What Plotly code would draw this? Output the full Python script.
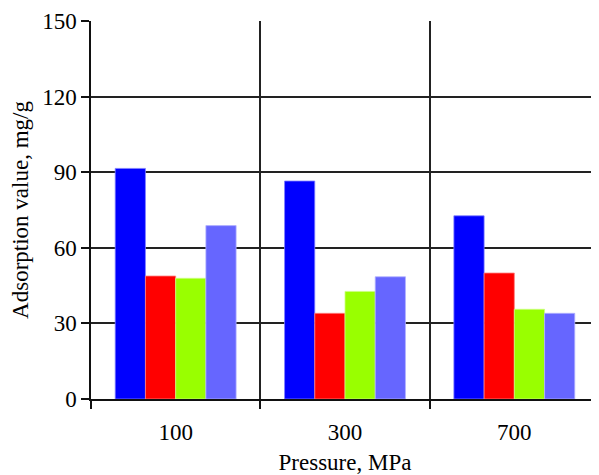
import plotly.graph_objects as go

categories = ["100", "300", "700"]
series_a = [91.5, 86.5, 72.7]
series_b = [48.8, 34.0, 50.0]
series_c = [47.9, 42.7, 35.6]
series_d = [68.8, 48.5, 34.0]
y_ticks = [0, 30, 60, 90, 120, 150]

colors = ["#0000FF", "#FF0000", "#99FF00", "#6666FF"]
edges = ["#8080FF", "#FF8080", "#CCFF80", "#B3B3FF"]

fig = go.Figure()
for vals, c, e in zip([series_a, series_b, series_c, series_d], colors, edges):
    fig.add_trace(go.Bar(x=categories, y=vals, marker=dict(color=c, line=dict(color=e, width=0.8)),
                         showlegend=False))

font = "Liberation Serif, Times New Roman, serif"
fig.update_layout(
    width=591, height=467,
    margin=dict(l=83, r=0, t=13, b=76, autoexpand=False),
    paper_bgcolor="white", plot_bgcolor="white",
    barmode="group", bargap=0.286, bargroupgap=0,
    font=dict(family=font, size=23, color="black"),
    xaxis=dict(
        type="category", tickson="boundaries", ticks="outside", ticklen=8, tickwidth=1.5,
        tickcolor="#111", showgrid=True, gridcolor="#222", gridwidth=1.5,
        showline=True, linecolor="#111", linewidth=1.5, automargin=False,
        ticklabelstandoff=12,
        tickfont=dict(size=23, family=font, color="black"),
        title=dict(text="Pressure, MPa", font=dict(size=23, family=font, color="black"), standoff=10),
    ),
    yaxis=dict(
        range=[0, 150], tickvals=y_ticks, ticks="outside", ticklen=8, tickwidth=1.5,
        tickcolor="#111", showgrid=True, gridcolor="#222", gridwidth=1.5,
        showline=True, linecolor="#111", linewidth=1.5, zeroline=False, automargin=False,
        tickfont=dict(size=23, family=font, color="black"),
        title=dict(text="Adsorption value, mg/g", font=dict(size=23, family=font, color="black"), standoff=8),
    ),
)
fig.write_html("out.html")
